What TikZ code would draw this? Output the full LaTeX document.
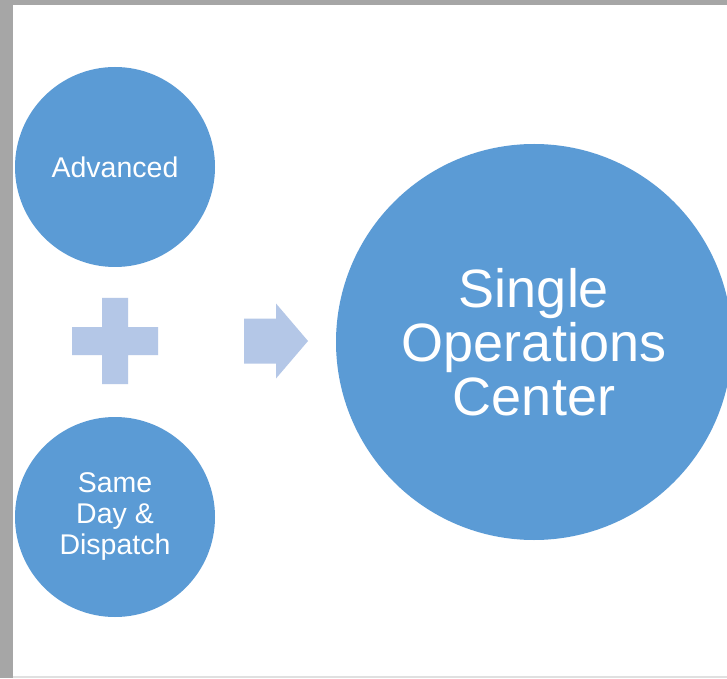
\documentclass[tikz,border=0pt]{standalone}
\usepackage{fontspec}
\setmainfont{Liberation Sans}
\usepackage{tikz}

\definecolor{bubbleblue}{HTML}{5B9BD5}
\definecolor{signblue}{HTML}{B4C7E7}
\definecolor{framegray}{HTML}{A6A6A6}

\begin{document}
\begin{tikzpicture}[x=1pt, y=1pt, node distance=350pt, font=\fontsize{28.5}{31}\selectfont]
\tikzstyle{bubble}=[circle, fill=bubbleblue, text=white, minimum size=200pt, inner sep=0pt, align=center]
\tikzstyle{sign}=[fill=signblue]

% slide frame
\fill[framegray] (0,0) rectangle (727,678);
\fill[white] (13,0) rectangle (727,673);
\fill[black!12] (13,0) rectangle (727,2);
\useasboundingbox (0,0) rectangle (727,678);
\clip (0,0) rectangle (727,678);

\node[bubble] (adv) at (115,511) {Advanced};
\node[bubble] (sdd) [below of=adv] {Same\\Day \&\\Dispatch};
\node[bubble, minimum size=396pt, font=\fontsize{54}{54}\selectfont] (soc) at (534,336) {Single\\Operations\\Center};

\coordinate (plus) at (115,337);
\coordinate (arr) at (276,337);

% plus and arrow
\fill[sign, shift={(plus)}] (-43,-14) rectangle (43,14) (-13,-43) rectangle (13,43);
\fill[sign, shift={(arr)}] (-32,22.5) -- (0,22.5) -- (0,37.5) -- (32,0)
  -- (0,-37.5) -- (0,-22.5) -- (-32,-22.5) -- cycle;
\end{tikzpicture}
\end{document}
